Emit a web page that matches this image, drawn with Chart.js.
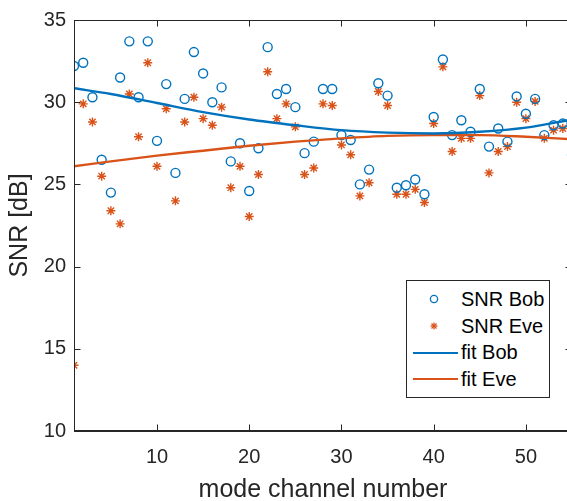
<!DOCTYPE html>
<html>
<head>
<meta charset="utf-8">
<script src="https://cdn.jsdelivr.net/npm/chart.js@4.4.1/dist/chart.umd.min.js"></script>
<style>
  html, body { margin: 0; padding: 0; background: #fff; overflow: hidden; }
  .wrap { position: relative; width: 580px; height: 501px; }
  #legend {
    position: absolute; left: 406px; top: 280px; width: 142px; height: 111px;
    border: 1px solid #262626; background: #fff; padding-top: 5px; box-sizing: content-box;
    font-family: "Liberation Sans", Arial, sans-serif; font-size: 20px; color: #000;
  }
  #legend .row { display: flex; align-items: center; height: 26.7px; }
  #legend svg { width: 54px; height: 26px; flex: none; }
  #legend span { white-space: nowrap; }
</style>
</head>
<body>
<div class="wrap">
  <canvas id="snr"></canvas>
  <div id="legend">
    <div class="row"><svg viewBox="0 0 54 26"><circle cx="27" cy="13" r="3.6" fill="none" stroke="#0072BD" stroke-width="1.3"/></svg><span>SNR Bob</span></div>
    <div class="row"><svg viewBox="0 0 54 26"><g stroke="#D95319" stroke-width="1.3"><line x1="23.5" y1="13" x2="30.5" y2="13"/><line x1="27" y1="9.5" x2="27" y2="16.5"/><line x1="24.5" y1="10.5" x2="29.5" y2="15.5"/><line x1="24.5" y1="15.5" x2="29.5" y2="10.5"/></g></svg><span>SNR Eve</span></div>
    <div class="row"><svg viewBox="0 0 54 26"><line x1="6" y1="13" x2="51" y2="13" stroke="#0072BD" stroke-width="2.2"/></svg><span>fit Bob</span></div>
    <div class="row"><svg viewBox="0 0 54 26"><line x1="6" y1="13" x2="51" y2="13" stroke="#D95319" stroke-width="2.2"/></svg><span>fit Eve</span></div>
  </div>
</div>
<script>
const modeNumbers = [1, 2, 3, 4, 5, 6, 7, 8, 9, 10, 11, 12, 13, 14, 15, 16, 17, 18, 19, 20,
  21, 22, 23, 24, 25, 26, 27, 28, 29, 30, 31, 32, 33, 34, 35, 36, 37, 38, 39, 40,
  41, 42, 43, 44, 45, 46, 47, 48, 49, 50, 51, 52, 53, 54, 55];
const snrBob = [32.2, 32.4, 30.3, 26.5, 24.5, 31.5, 33.7, 30.3, 33.7, 27.65,
  31.1, 25.7, 30.2, 33.05, 31.75, 30.0, 30.9, 26.4, 27.5, 24.6,
  27.2, 33.35, 30.5, 30.8, 29.7, 26.9, 27.6, 30.8, 30.8, 28.0,
  27.7, 25.0, 25.9, 31.15, 30.4, 24.8, 24.95, 25.3, 24.4, 29.1,
  32.6, 28.0, 28.9, 28.2, 30.8, 27.3, 28.4, 27.6, 30.35, 29.3,
  30.2, 28.0, 28.6, 28.7, 26.8];
const snrEve = [14.0, 29.9, 28.8, 25.5, 23.4, 22.6, 30.5, 27.9, 32.4, 26.1,
  29.6, 24.0, 28.8, 30.3, 29.0, 28.6, 29.7, 24.8, 26.1, 23.05,
  25.6, 31.85, 29.0, 29.9, 28.5, 25.6, 26.0, 29.9, 29.8, 27.4,
  26.8, 24.3, 25.1, 30.65, 29.8, 24.4, 24.4, 24.7, 23.9, 28.7,
  32.15, 27.0, 27.8, 27.8, 30.4, 25.7, 27.0, 27.3, 30.0, 29.0,
  30.05, 27.8, 28.3, 28.4, 26.5];

// fit curves
const fitModes = [1, 5, 10, 15, 20, 25, 30, 35, 40, 45, 50, 55];
const fitBob = [30.85, 30.5, 29.95, 29.4, 28.95, 28.6, 28.3, 28.15, 28.1, 28.2, 28.45, 28.95];
const fitEve = [26.1, 26.4, 26.75, 27.05, 27.35, 27.6, 27.8, 27.95, 28.0, 28.0, 27.9, 27.75];

const xTicks = [10, 20, 30, 40, 50];
const yTicks = [10, 15, 20, 25, 30, 35];

const blue = "#0072BD";
const orange = "#D95319";
const axisColor = "#262626";
const fontFamily = '"Liberation Sans", Arial, sans-serif';

const toPoints = (xs, ys) => xs.map((x, i) => ({ x: x, y: ys[i] }));

// box around the plot and inward tick marks, like matlab
const boxPlugin = {
  id: "box",
  afterDatasetsDraw(chart) {
    const { ctx, chartArea: a, scales } = chart;
    const l = Math.round(a.left) + 0.5, r = Math.round(a.right) - 0.5;
    const t = Math.round(a.top) + 0.5, b = Math.round(a.bottom) - 0.5;
    const len = 6;
    ctx.save();
    ctx.strokeStyle = axisColor;
    ctx.lineWidth = 1;
    ctx.beginPath();
    ctx.moveTo(l, t); ctx.lineTo(r, t); ctx.lineTo(r, b); ctx.lineTo(l, b); ctx.lineTo(l, t);
    scales.x.ticks.forEach((tk) => {
      const px = Math.round(scales.x.getPixelForValue(tk.value)) + 0.5;
      ctx.moveTo(px, b); ctx.lineTo(px, b - len);
      ctx.moveTo(px, t); ctx.lineTo(px, t + len);
    });
    scales.y.ticks.forEach((tk) => {
      const py = Math.round(scales.y.getPixelForValue(tk.value)) + 0.5;
      ctx.moveTo(l, py); ctx.lineTo(l + len, py);
      ctx.moveTo(r, py); ctx.lineTo(r - len, py);
    });
    ctx.stroke();
    ctx.restore();
  },
};

new Chart(document.getElementById("snr"), {
  type: "scatter",
  data: {
    datasets: [
      {
        label: "SNR Bob",
        data: toPoints(modeNumbers, snrBob),
        pointStyle: "circle",
        pointRadius: 4.5,
        pointBorderWidth: 1.4,
        borderColor: blue,
        backgroundColor: "rgba(0,0,0,0)",
        order: 1,
      },
      {
        label: "SNR Eve",
        data: toPoints(modeNumbers, snrEve),
        pointStyle: "star",
        pointRadius: 4.5,
        pointBorderWidth: 1.4,
        borderColor: orange,
        backgroundColor: orange,
        order: 2,
      },
      {
        label: "fit Bob",
        type: "line",
        data: toPoints(fitModes, fitBob),
        borderColor: blue,
        borderWidth: 2.4,
        pointRadius: 0,
        cubicInterpolationMode: "monotone",
        order: 0,
      },
      {
        label: "fit Eve",
        type: "line",
        data: toPoints(fitModes, fitEve),
        borderColor: orange,
        borderWidth: 2.4,
        pointRadius: 0,
        cubicInterpolationMode: "monotone",
        order: 0,
      },
    ],
  },
  options: {
    responsive: true,
    maintainAspectRatio: false,
    animation: false,
    layout: { padding: { left: 0, top: 14, right: 8, bottom: 0 } },
    plugins: { legend: { display: false }, tooltip: { enabled: false } },
    scales: {
      x: {
        type: "linear",
        min: 1,
        max: 55,
        afterBuildTicks: (scale) => { scale.ticks = xTicks.map((v) => ({ value: v })); },
        afterFit: (scale) => { scale.height = 70; },
        grid: { display: false, drawTicks: false },
        border: { color: axisColor, width: 1 },
        ticks: { color: axisColor, padding: 14, font: { family: fontFamily, size: 20 } },
        title: {
          display: true,
          text: "mode channel number",
          color: axisColor,
          padding: { top: 0, bottom: 0 },
          font: { family: fontFamily, size: 25, lineHeight: 0.85 },
        },
      },
      y: {
        min: 10,
        max: 35,
        afterBuildTicks: (scale) => { scale.ticks = yTicks.map((v) => ({ value: v })); },
        afterFit: (scale) => { scale.width = 74; },
        grid: { display: false, drawTicks: false },
        border: { color: axisColor, width: 1 },
        ticks: { color: axisColor, padding: 8, font: { family: fontFamily, size: 20 } },
        title: {
          display: true,
          text: "SNR [dB]",
          color: axisColor,
          padding: { top: 5, bottom: 0 },
          font: { family: fontFamily, size: 25, lineHeight: 1.2 },
        },
      },
    },
  },
  plugins: [boxPlugin],
});
</script>
</body>
</html>
